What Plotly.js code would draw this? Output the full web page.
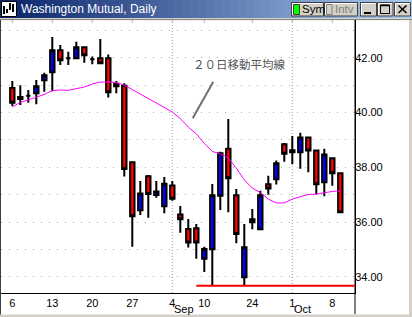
<!DOCTYPE html>
<html><head><meta charset="utf-8">
<script src="https://cdn.plot.ly/plotly-3.0.1.min.js"></script>
<style>html,body{margin:0;padding:0;background:#fff;overflow:hidden}#chart{width:412px;height:317px}</style>
</head><body><div id="chart"></div>
<script>
// ---- data ----
const dates = ['2001-08-06','2001-08-07','2001-08-08','2001-08-09','2001-08-10',
  '2001-08-13','2001-08-14','2001-08-15','2001-08-16','2001-08-17',
  '2001-08-20','2001-08-21','2001-08-22','2001-08-23','2001-08-24',
  '2001-08-27','2001-08-28','2001-08-29','2001-08-30','2001-08-31',
  '2001-09-04','2001-09-05','2001-09-06','2001-09-07','2001-09-10',
  '2001-09-17','2001-09-18','2001-09-19','2001-09-20','2001-09-21',
  '2001-09-24','2001-09-25','2001-09-26','2001-09-27','2001-09-28',
  '2001-10-01','2001-10-02','2001-10-03','2001-10-04','2001-10-05',
  '2001-10-08','2001-10-09'];
const openP  = [40.89,40.49,40.61,40.70,41.18,41.47,42.27,41.98,41.98,42.38,
  41.94,41.98,41.98,41.05,40.98,38.18,36.43,37.67,36.99,36.58,
  37.34,36.28,35.75,35.78,34.66,35.01,36.96,38.68,36.98,33.99,
  35.99,35.74,37.38,37.56,38.84,38.62,38.55,39.09,38.61,37.45,
  38.33,37.78];
const highP  = [41.15,40.99,40.82,41.19,41.45,42.76,42.46,42.22,42.58,42.40,
  42.04,42.68,42.12,41.15,41.07,38.20,37.50,37.72,37.50,37.65,
  37.50,36.59,36.11,35.93,35.10,37.39,38.57,39.76,37.21,35.93,
  36.48,37.14,37.69,38.25,38.89,39.14,39.26,39.10,38.62,38.68,
  38.37,37.80];
const lowP   = [40.24,40.27,40.36,40.30,40.76,40.78,41.73,41.73,41.96,41.82,
  41.76,41.78,40.55,40.70,37.66,35.10,36.26,36.16,36.89,36.32,
  36.78,35.61,35.07,34.66,34.18,33.68,36.44,36.36,35.23,33.68,
  35.74,35.72,37.00,37.37,38.20,38.11,37.95,37.82,37.01,36.94,
  37.33,36.32];
const closeP = [40.36,40.57,40.61,40.96,41.36,42.27,41.91,41.98,42.38,42.09,
  41.94,41.80,40.74,40.96,37.94,36.21,37.04,37.03,37.12,37.40,
  36.85,36.10,35.26,35.26,35.02,36.98,38.51,37.60,35.57,35.08,
  36.10,36.98,37.23,38.15,38.49,38.55,39.09,38.61,37.38,38.47,
  37.78,36.36];
const ma20   = [40.20,40.37,40.46,40.57,40.66,40.80,40.82,40.81,40.86,40.93,
  41.04,41.11,41.12,41.09,41.00,40.84,40.68,40.49,40.35,40.20,
  40.02,39.78,39.47,39.22,38.87,38.58,38.49,38.34,37.97,37.54,
  37.24,37.08,36.84,36.70,36.70,36.84,36.93,37.01,37.02,37.08,
  37.12,37.14];
const tickDates  = ['2001-08-06','2001-08-13','2001-08-20','2001-08-27','2001-09-04','2001-09-10','2001-09-24','2001-10-01','2001-10-08'];
const tickLabels = ['6','13','20','27','4','10','24','1','8'];
const monthDates  = ['2001-09-04','2001-10-01'];
const monthLabels = ['Sep','Oct'];
const maLabel = '２０日移動平均線';
const windowTitle = 'Washington Mutual, Daily';

// ---- geometry helpers (pixel -> paper) ----
const PL = 1, PR = 355, PT = 20, PB = 293;
const px = x => (x - PL) / (PR - PL);
const py = y => (PB - y) / (PB - PT);

const xIdx = dates.map((d, i) => i);
const tickVals = tickDates.map(d => dates.indexOf(d));
const monthIdx = monthDates.map(d => dates.indexOf(d));
const minLow = Math.min(...lowP);

const shapes = [];
const annotations = [];

// title bar gradient
const N = 52;
const c0 = [10, 36, 106], c1 = [166, 202, 240];
for (let k = 0; k < N; k++) {
  const t = k / (N - 1);
  const c = c0.map((v, j) => Math.round(v + (c1[j] - v) * t));
  shapes.push({type:'rect', xref:'paper', yref:'paper',
    x0: px(k * 412 / N), x1: px((k + 1) * 412 / N + 0.6), y0: py(18), y1: py(0),
    fillcolor: `rgb(${c.join(',')})`, line:{width:0}, layer:'above'});
}
// frame pieces
shapes.push({type:'rect', xref:'paper', yref:'paper', x0:px(0), x1:px(412), y0:py(20), y1:py(18), fillcolor:'#d4d0c8', line:{width:0}});
shapes.push({type:'line', xref:'paper', yref:'paper', x0:px(0), x1:px(412), y0:py(19.6), y1:py(19.6), line:{color:'#808080', width:1}});
shapes.push({type:'line', xref:'paper', yref:'paper', x0:px(0.5), x1:px(0.5), y0:py(20), y1:py(317), line:{color:'#404040', width:1}});
shapes.push({type:'rect', xref:'paper', yref:'paper', x0:px(0), x1:px(412), y0:py(317), y1:py(314.5), fillcolor:'#d4d0c8', line:{width:0}});
shapes.push({type:'rect', xref:'paper', yref:'paper', x0:px(409), x1:px(412), y0:py(317), y1:py(20), fillcolor:'#d4d0c8', line:{width:0}});
shapes.push({type:'line', xref:'paper', yref:'paper', x0:1, x1:1, y0:py(314), y1:py(20), line:{color:'#000', width:1}});

// icon
shapes.push({type:'rect', xref:'paper', yref:'paper', x0:px(1.5), x1:px(16.5), y0:py(16.5), y1:py(1.5), fillcolor:'#ffffff', line:{color:'#000', width:1}});
[[4,6,14],[7,9,13],[10,3,10],[13,4,12]].forEach(b => {
  shapes.push({type:'line', xref:'paper', yref:'paper', x0:px(b[0]), x1:px(b[0]), y0:py(b[2]), y1:py(b[1]), line:{color:'#000', width:2}});
});

// buttons
function button(x0, x1) {
  shapes.push({type:'rect', xref:'paper', yref:'paper', x0:px(x0), x1:px(x1), y0:py(16), y1:py(2.5), fillcolor:'#d4d0c8', line:{color:'#404040', width:1}});
  shapes.push({type:'path', xref:'paper', yref:'paper', path:`M${px(x0+1)},${py(15)} L${px(x0+1)},${py(3.5)} L${px(x1-1)},${py(3.5)}`, line:{color:'#ffffff', width:1}});
}
button(291.5, 323.5); button(324.5, 357.5); button(360.5, 376.5); button(377.5, 393); button(394.5, 410.5);
shapes.push({type:'rect', xref:'paper', yref:'paper', x0:px(293.5), x1:px(299.5), y0:py(14.5), y1:py(4.5), fillcolor:'#00ff00', line:{color:'#404040', width:1}});
shapes.push({type:'rect', xref:'paper', yref:'paper', x0:px(326.5), x1:px(332), y0:py(14.5), y1:py(4.5), fillcolor:'#d4d0c8', line:{color:'#808080', width:1}});
shapes.push({type:'rect', xref:'paper', yref:'paper', x0:px(364), x1:px(371), y0:py(14), y1:py(12), fillcolor:'#000', line:{width:0}});
shapes.push({type:'rect', xref:'paper', yref:'paper', x0:px(380.5), x1:px(389.5), y0:py(13.5), y1:py(5), fillcolor:'rgba(0,0,0,0)', line:{color:'#000', width:1}});
shapes.push({type:'line', xref:'paper', yref:'paper', x0:px(380.5), x1:px(389.5), y0:py(5.5), y1:py(5.5), line:{color:'#000', width:1.5}});
shapes.push({type:'line', xref:'paper', yref:'paper', x0:px(398.5), x1:px(406.5), y0:py(5.5), y1:py(13), line:{color:'#000', width:1.6}});
shapes.push({type:'line', xref:'paper', yref:'paper', x0:px(398.5), x1:px(406.5), y0:py(13), y1:py(5.5), line:{color:'#000', width:1.6}});

// month vertical dotted lines
monthIdx.forEach(i => shapes.push({type:'line', xref:'x', yref:'paper', x0:i, x1:i, y0:0, y1:1, layer:'below', line:{color:'#a0a0a0', width:1, dash:'1px,2px'}}));
// top tick marks
tickVals.forEach(i => shapes.push({type:'line', xref:'x', yref:'paper', x0:i, x1:i, y0:1, y1:py(23), line:{color:'#b0b0b0', width:1}}));
// low support line
shapes.push({type:'line', xref:'x', yref:'y', x0:23, x1:43, y0:minLow, y1:minLow, line:{color:'#ff0000', width:2}});
// pointer line of MA label
shapes.push({type:'line', xref:'paper', yref:'paper', x0:px(213.3), y0:py(81.7), x1:px(192.7), y1:py(118.3), line:{color:'#707070', width:2}});

// texts
annotations.push({xref:'paper', yref:'paper', x:px(19), y:py(9.5), xanchor:'left', yanchor:'middle', showarrow:false,
  text:windowTitle, font:{family:'Liberation Sans, Arial, sans-serif', size:12, color:'#ffffff'}});
annotations.push({xref:'paper', yref:'paper', x:px(300), y:py(9.5), xanchor:'left', yanchor:'middle', showarrow:false,
  text:'Sym', font:{family:'Liberation Sans, Arial, sans-serif', size:11.5, color:'#000'}});
annotations.push({xref:'paper', yref:'paper', x:px(333), y:py(9.5), xanchor:'left', yanchor:'middle', showarrow:false,
  text:'Intv', font:{family:'Liberation Sans, Arial, sans-serif', size:11.5, color:'#808080'}});
annotations.push({xref:'paper', yref:'paper', x:px(191), y:py(64), xanchor:'left', yanchor:'middle', showarrow:false,
  text:maLabel, font:{family:'Noto Sans CJK JP, sans-serif', size:11.5, color:'#555555'}});
monthIdx.forEach((i, k) => annotations.push({xref:'x', yref:'paper', x:i, y:py(309), xanchor:'left', yanchor:'middle', showarrow:false,
  text:monthLabels[k], font:{family:'Liberation Sans, Arial, sans-serif', size:11, color:'#000'}}));

const traces = [
  {type:'scatter', mode:'lines', x:xIdx, y:ma20, line:{color:'#ff00ff', width:1}, hoverinfo:'skip'},
  {type:'candlestick', x:xIdx, open:openP, high:highP, low:lowP, close:closeP,
   increasing:{line:{color:'#000000', width:2}, fillcolor:'#0000ff'},
   decreasing:{line:{color:'#000000', width:2}, fillcolor:'#ff0000'},
   whiskerwidth:0, hoverinfo:'skip'}
];

const layout = {
  width:412, height:317,
  margin:{l:PL, r:412-PR, t:PT, b:317-PB, pad:0},
  paper_bgcolor:'#ffffff', plot_bgcolor:'#ffffff',
  showlegend:false, hovermode:false, dragmode:false,
  boxgap:0.45, boxgroupgap:0,
  xaxis:{range:[(PL-12.3)/8, (PR-12.3)/8], tickmode:'array', tickvals:tickVals, ticktext:tickLabels,
    tickfont:{family:'Liberation Sans, Arial, sans-serif', size:11, color:'#000'},
    showgrid:false, zeroline:false, showline:true, linecolor:'#000', linewidth:1, ticks:'',
    rangeslider:{visible:false}, fixedrange:true},
  yaxis:{side:'right', range:[42 - (PB-57.7)/27.4, 42 + (57.7-PT)/27.4], tick0:0, dtick:2, tickformat:'.2f',
    tickfont:{family:'Liberation Sans, Arial, sans-serif', size:11, color:'#000'},
    ticks:'', ticklabelstandoff:-3, showline:true, linecolor:'#000', linewidth:1, zeroline:false,
    showgrid:true, gridcolor:'#a8a8a8', gridwidth:1, griddash:'1px,7px',
    minor:{dtick:1, showgrid:true, gridcolor:'#a8a8a8', gridwidth:1, griddash:'1px,7px'},
    fixedrange:true},
  shapes:shapes, annotations:annotations
};

Plotly.newPlot('chart', traces, layout, {staticPlot:true, displayModeBar:false});
</script>
</body></html>
